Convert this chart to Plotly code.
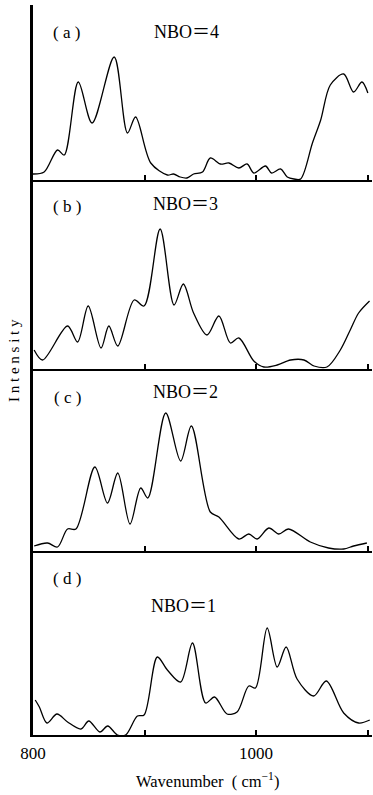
import plotly.graph_objects as go
from plotly.subplots import make_subplots

# ---- data (wavenumber in cm^-1, intensity in arbitrary units) ----
wn_a = [800, 810, 822, 828, 840.6, 853, 872.8, 884.7, 892, 905.6, 920.5, 926, 932, 938, 944, 952, 959, 968, 975.7,
        984.6, 992, 998, 1008.5, 1014, 1022, 1028, 1034, 1040, 1050.6, 1058, 1066.6, 1078.6, 1087.5, 1095, 1100.3]
int_a = [6, 8, 30, 25, 98, 57, 123, 47, 63, 17, 5, 6, 3, 2, 6, 8, 22, 16, 17,
         12, 16, 7, 14, 7, 11, 3, 1, 1, 37, 60, 95, 106, 88, 98, 87]

wn_b = [801, 808.6, 831, 840, 849.5, 861, 868, 876, 890.7, 899.6, 914, 926.5, 934.8, 944, 956, 966.7, 977, 984.6,
        998, 1007, 1019, 1031, 1043, 1052, 1063.6, 1075.6, 1084.5, 1092, 1101.8]
int_b = [19, 9, 43, 27, 63, 21, 43, 23, 69, 63, 140, 64, 85, 56, 34, 53, 26, 31,
         8, 2, 4, 9, 9, 3, 2, 19, 39, 56, 68]

wn_c = [801, 813, 822, 831, 838.5, 855.5, 866.8, 876, 887, 896.6, 903, 919, 932.4, 942, 959, 966.7, 984.6, 993.5,
        1001, 1011.5, 1020.4, 1029, 1048.7, 1065, 1078.6, 1087.5, 1099.4]
int_c = [5, 8, 4, 22, 22, 84, 48, 78, 27, 63, 53, 138, 90, 125, 39, 34, 12, 17,
         12, 23, 17, 22, 9, 3, 2, 5, 8]

wn_d = [802, 805.7, 812.5, 821.5, 831, 843, 850, 860, 867, 875.7, 883, 893.6, 899.6, 911.5, 920.5, 932.4, 943,
        954.8, 962.8, 974, 983, 993.5, 999.5, 1010, 1019, 1027, 1036.8, 1051.7, 1063, 1078.6, 1092, 1102]
int_d = [35, 28, 12, 21, 13, 6, 14, 3, 9, 0, 0, 19, 20, 78, 65, 53, 92,
         32, 38, 21, 23, 49, 47, 107, 68, 88, 56, 39, 54, 22, 12, 15]

panel_labels = ["( a )", "( b )", "( c )", "( d )"]
nbo_labels = ["NBO\uff1d4", "NBO\uff1d3", "NBO\uff1d2", "NBO\uff1d1"]
label_ticks = [800, 1000]
label_text = ["800", "1000"]
minor_step = 100
x_title = "Wavenumber\u00a0\u00a0(\u00a0cm<sup>\u22121</sup>)"
y_title = "I n t e n s i t y"

series = [(wn_a, int_a), (wn_b, int_b), (wn_c, int_c), (wn_d, int_d)]

# ---- layout geometry (pixels) ----
W, H = 373, 795
L, R, T, B = 33, 1, 5, 60
plot_h = H - T - B  # 730
base_px = [180, 369, 551, 735]   # baselines of panels a..d
top_px = [5, 180, 369, 551]
y_bottom = H - B


def py(p):
    return (y_bottom - p) / plot_h


def px(p):
    return (p - L) / (W - L - R)


fig = make_subplots(rows=4, cols=1, shared_xaxes=True, vertical_spacing=0)
SERIF = "Liberation Serif"
NBOFONT = "Liberation Serif, Noto Sans CJK SC"

for i, (xs, ys) in enumerate(series):
    r = i + 1
    fig.add_trace(go.Scatter(x=xs, y=ys, mode="lines",
                             line=dict(color="black", width=1.3, shape="spline", smoothing=0.9),
                             showlegend=False, hoverinfo="skip"), row=r, col=1)
    dom = [py(base_px[i]), py(top_px[i])]
    fig.update_yaxes(domain=dom, range=[0, base_px[i] - top_px[i]], showgrid=False, zeroline=False,
                     showticklabels=False, ticks="", showline=True, linecolor="black", linewidth=2.6,
                     row=r, col=1)
    fig.update_xaxes(range=[800, 1104], showgrid=False, zeroline=False, showline=True,
                     linecolor="black", linewidth=1.6, ticks="inside", ticklen=5, tickwidth=1.5,
                     tickcolor="black", tickmode="array", tickvals=label_ticks, ticktext=label_text,
                     minor=dict(ticks="inside", ticklen=5, tickwidth=1.5, tickcolor="black",
                                tick0=800, dtick=minor_step, showgrid=False),
                     showticklabels=(r == 4), row=r, col=1)

fig.update_xaxes(tickfont=dict(family=SERIF, size=17, color="black"), ticklabelstandoff=2, row=4, col=1)

ann = []
lab_pos = [(66, 33, 186, 32), (67, 207, 185, 204), (67, 397, 185, 392), (67, 578, 183, 606)]
for i in range(4):
    lx, ly, nx, ny = lab_pos[i]
    ann.append(dict(text=panel_labels[i], x=px(lx), y=py(ly), xref="paper", yref="paper",
                    showarrow=False, xanchor="center", yanchor="middle",
                    font=dict(family=SERIF, size=17, color="black")))
    ann.append(dict(text=nbo_labels[i], x=px(nx), y=py(ny), xref="paper", yref="paper",
                    showarrow=False, xanchor="center", yanchor="middle",
                    font=dict(family=NBOFONT, size=18, color="black")))
ann.append(dict(text=x_title, x=px(207), y=py(780), xref="paper", yref="paper", showarrow=False,
                xanchor="center", yanchor="middle", font=dict(family=SERIF, size=16.5, color="black")))
ann.append(dict(text=y_title, x=px(14), y=py(361), xref="paper", yref="paper", showarrow=False,
                textangle=-90, xanchor="center", yanchor="middle",
                font=dict(family=SERIF, size=15, color="black")))

fig.update_layout(width=W, height=H, margin=dict(l=L, r=R, t=T, b=B, pad=0),
                  paper_bgcolor="white", plot_bgcolor="white", annotations=ann)

fig.write_html("out.html", config={"displayModeBar": False},
               post_script="document.body.style.margin='0';document.body.style.overflow='hidden';")
